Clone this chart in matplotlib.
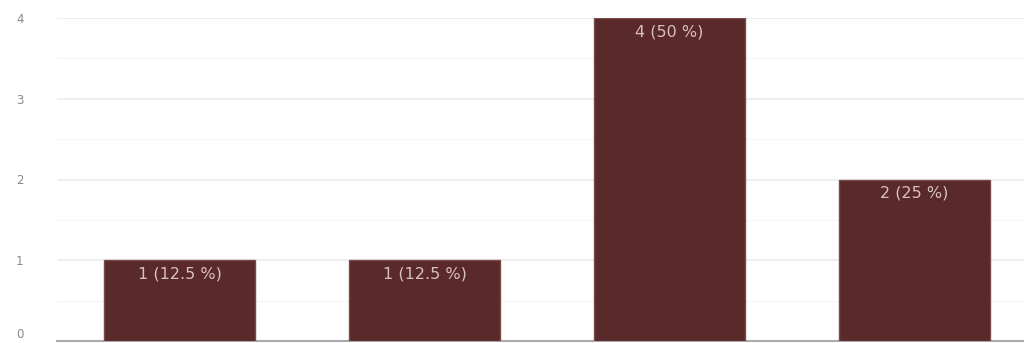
import matplotlib.pyplot as plt
import numpy as np

categories = ['A', 'B', 'C', 'D']
counts = [1, 1, 4, 2]
labels = ['1 (12.5 %)', '1 (12.5 %)', '4 (50 %)', '2 (25 %)']

fig = plt.figure(figsize=(10.24, 3.43), dpi=100)
# axes runs off the right edge, like the cropped source
ax = fig.add_axes([57 / 1024, 2 / 343, 980 / 1024, 323 / 343])

x = np.arange(len(categories))
ax.bar(x, counts, width=0.62, color='#5a2a2a', edgecolor='#7a4a4a', linewidth=1, zorder=3)
for xi, c, t in zip(x, counts, labels):
    ax.text(xi, c - 0.17, t, ha='center', va='center', fontsize=11.5, color='#d8c0c0', zorder=4)

ax.set_xlim(-0.5, len(categories) - 0.5)
ax.set_ylim(0, 4)
ax.set_yticks([0, 1, 2, 3, 4])
ax.set_yticks(np.arange(0.5, 4, 1), minor=True)
ax.grid(axis='y', which='major', color='#ebebeb', linewidth=1.2, zorder=0)
ax.grid(axis='y', which='minor', color='#f5f5f5', linewidth=1, zorder=0)
ax.set_xticks([])
ax.tick_params(axis='y', which='both', length=0, labelsize=8.5, labelcolor='#888888', pad=24)
ax.get_yticklabels()[0].set_va('bottom')
for s in ['top', 'right', 'left']:
    ax.spines[s].set_visible(False)
ax.spines['bottom'].set_color('#aaaaaa')
ax.spines['bottom'].set_linewidth(1.5)

fig.savefig('out.png', dpi=100)
